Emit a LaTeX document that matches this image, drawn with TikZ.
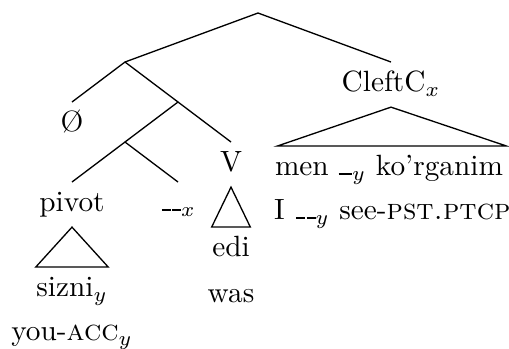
\documentclass[tikz,border=0pt]{standalone}
\usetikzlibrary{calc}
\newcommand\gapx{\kern0.6pt\rule[0.2pt]{3pt}{0.8pt}\kern0.6pt\rule[0.2pt]{3pt}{0.8pt}}
\newcommand\gapy{\rule[0.3pt]{4.6pt}{0.8pt}}
\begin{document}
\begin{tikzpicture}[x=0.3413pt,y=-0.3413pt,
  lab/.style={inner xsep=0pt,inner ysep=3pt,text height=7pt,text depth=2pt},
  gloss/.style={inner sep=0pt},
  branch/.style={line width=0.45pt},
  ]
\useasboundingbox (0,0) rectangle (509,348);
\coordinate (root) at (258,13);
\coordinate (n1) at (125,62);
\coordinate (n2) at (178,102);
\coordinate (n3) at (125,142);
\node[lab,anchor=north] (cleft) at (391,62) {CleftC$_x$};
\node[lab,anchor=north] (null) at (72,102) {\O};
\node[lab,anchor=north] (V) at (231,142) {V};
\node[lab,anchor=north] (pivot) at (72,182) {pivot};
\node[lab,anchor=north] (trace) at (178,182) {\gapx$_x$};
\node[lab,anchor=north] (men) at (389,146) {men \gapy$_y$ ko'rganim};
\node[lab,anchor=north] (edi) at (231,227) {edi};
\node[lab,anchor=north] (sizni) at (72,267) {sizni$_y$};
\node[gloss,anchor=base west] (I) at ($(men.base west)+(-1,44)$) {I \gapx$_y$ see-\textsc{pst.ptcp}};
\node[gloss,anchor=base] (was) at ($(edi.base)+(0,46)$) {was};
\node[gloss,anchor=base] (you) at ($(sizni.base)+(0,44)$) {you-\textsc{acc}$_y$};
\draw[branch] (n1) -- (root) -- (cleft.north);
\draw[branch] (null.north) -- (n1) -- (n2);
\draw[branch] (n3) -- (n2) -- (V.north);
\draw[branch] (pivot.north) -- (n3) -- (trace.north);
\draw[branch] (cleft.south) -- ([xshift=1pt]men.north west) -- ([xshift=1pt]men.north east) -- cycle;
\draw[branch] (V.south) -- (edi.north west) -- (edi.north east) -- cycle;
\draw[branch] (pivot.south) -- (sizni.north west) -- (sizni.north east) -- cycle;
\end{tikzpicture}
\end{document}
